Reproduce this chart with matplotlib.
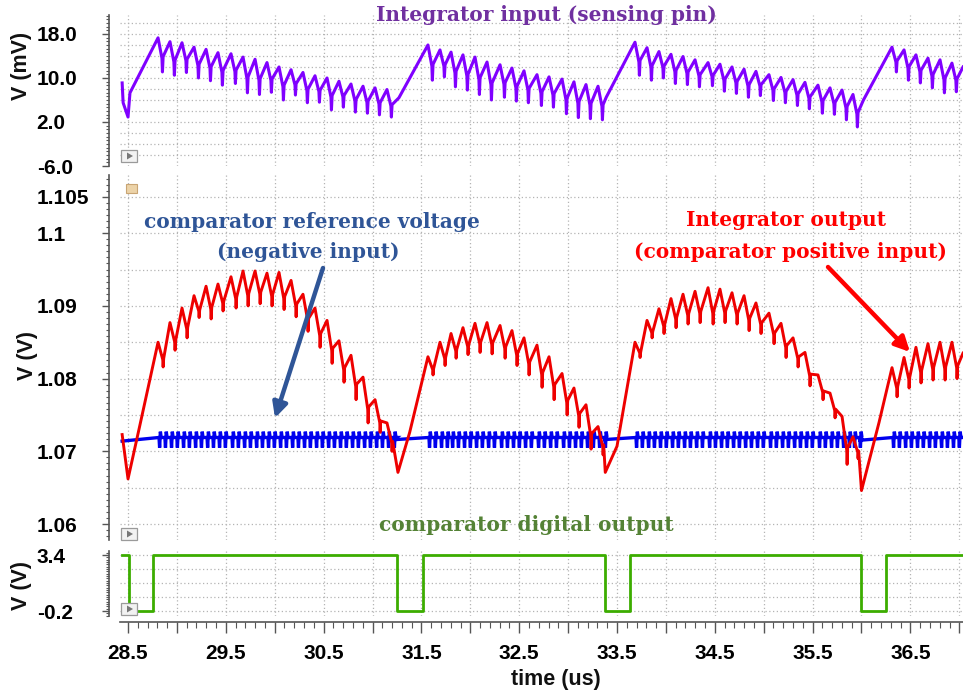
import numpy as np
import matplotlib
matplotlib.use("Agg")
import matplotlib.pyplot as plt
from matplotlib.ticker import FixedLocator, MultipleLocator, FuncFormatter
from matplotlib.patches import Rectangle, Polygon

# ---------------- waveform data (time in us) ----------------
# Ripple peak times of each conversion cycle; the first entry of each list is
# the top of the charging ramp that follows the comparator pulse.
cyc_t1 = [28.807, 28.929, 29.052, 29.175, 29.298, 29.420, 29.553, 29.676, 29.799, 29.921,
          30.044, 30.167, 30.289, 30.412, 30.535, 30.657, 30.780, 30.903, 31.026, 31.148]
cyc_t2 = [31.567, 31.690, 31.803, 31.925, 32.048, 32.171, 32.304, 32.426, 32.549, 32.682,
          32.805, 32.938, 33.060, 33.183, 33.306]
cyc_t3 = [33.684, 33.807, 33.929, 34.052, 34.175, 34.298, 34.431, 34.553, 34.676, 34.799,
          34.921, 35.054, 35.177, 35.300, 35.422, 35.555, 35.678, 35.801, 35.913]
cyc_t4 = [36.312, 36.435, 36.557, 36.680, 36.803, 36.925]

# Integrator output (V): ripple peaks and the dips that follow them
red_pk1 = [1.0850, 1.0877, 1.0897, 1.0914, 1.0927, 1.0930, 1.0940, 1.0948, 1.0948, 1.0945,
           1.0946, 1.0935, 1.0916, 1.0897, 1.0880, 1.0852, 1.0832, 1.0802, 1.0771, 1.0739]
red_tr1 = [1.0816, 1.0839, 1.0856, 1.0884, 1.0882, 1.0893, 1.0897, 1.0900, 1.0903, 1.0900,
           1.0895, 1.0885, 1.0865, 1.0843, 1.0821, 1.0795, 1.0771, 1.0739, 1.0726, 1.0700]
red_pk2 = [1.0830, 1.0850, 1.0862, 1.0870, 1.0876, 1.0877, 1.0873, 1.0866, 1.0856, 1.0846,
           1.0830, 1.0807, 1.0787, 1.0764, 1.0734]
red_tr2 = [1.0805, 1.0818, 1.0828, 1.0833, 1.0836, 1.0834, 1.0828, 1.0818, 1.0805, 1.0788,
           1.0771, 1.0750, 1.0733, 1.0703, 1.0695]
red_pk3 = [1.0850, 1.0880, 1.0896, 1.0910, 1.0916, 1.0920, 1.0925, 1.0923, 1.0918, 1.0914,
           1.0904, 1.0890, 1.0876, 1.0856, 1.0836, 1.0805, 1.0780, 1.0748, 1.0720]
red_tr3 = [1.0829, 1.0856, 1.0862, 1.0870, 1.0875, 1.0877, 1.0875, 1.0877, 1.0875, 1.0866,
           1.0862, 1.0848, 1.0829, 1.0816, 1.0790, 1.0771, 1.0746, 1.0682, 1.0690]
red_pk4 = [1.0815, 1.0829, 1.0843, 1.0848, 1.0850, 1.0850]
red_tr4 = [1.0775, 1.0787, 1.0794, 1.0798, 1.0798, 1.0800]
red_min_t = [28.50, 31.26, 33.38, 36.00]
red_min_v = [1.0662, 1.0671, 1.0671, 1.0646]
red_knee_t = [28.62, 31.38, 33.50, 36.18]
red_knee_v = [1.0735, 1.0726, 1.0707, 1.0740]
red_first = (28.44, 1.0723)
red_last = (37.038, 1.0835)

# Integrator input (mV)
pur_pk1 = [17.3, 16.6, 16.4, 15.6, 15.2, 14.6, 14.4, 13.8, 13.4, 12.8,
           12.0, 11.5, 11.0, 10.4, 10.0, 9.4, 8.9, 8.5, 8.2, 7.9]
pur_tr1 = [11.1, 10.5, 11.0, 10.0, 9.5, 8.7, 9.0, 7.3, 7.0, 7.4,
           6.0, 6.9, 5.5, 5.6, 4.2, 4.7, 3.8, 3.6, 3.3, 2.9]
pur_pk2 = [16.0, 15.1, 14.7, 14.2, 13.8, 12.9, 12.4, 11.8, 11.3, 10.6,
           10.2, 9.8, 9.3, 8.8, 8.5]
pur_tr2 = [9.6, 10.2, 8.4, 7.8, 7.0, 6.0, 6.5, 5.8, 5.5, 5.0,
           4.7, 3.5, 2.8, 2.6, 2.4]
pur_pk3 = [16.5, 15.5, 14.8, 14.3, 13.9, 13.3, 12.8, 12.5, 12.0, 11.6,
           11.2, 10.6, 10.1, 9.7, 9.2, 8.7, 8.2, 7.8, 7.0]
pur_tr3 = [10.5, 9.6, 10.0, 9.0, 8.8, 8.4, 8.6, 7.6, 7.2, 6.5,
           6.8, 5.9, 5.5, 5.0, 4.4, 3.6, 3.4, 2.4, 1.1]
pur_pk4 = [15.6, 15.1, 14.2, 13.6, 13.3, 12.7]
pur_tr4 = [11.1, 9.6, 9.1, 8.2, 7.3, 7.5]
pur_ramp_t = [28.52, 31.27, 33.39, 36.02]
pur_ramp_v = [7.3, 6.4, 6.5, 6.0]
pur_first_t = [28.44, 28.45, 28.50]
pur_first_v = [9.1, 5.5, 2.9]
pur_last = (37.038, 12.0)

# Comparator reference (V)
blue_flat_t0 = [28.44, 31.22, 33.36, 35.97]
blue_flat_v0 = [1.0714, 1.0716, 1.0716, 1.0715]
blue_flat_v1 = [1.0719, 1.0719, 1.0719, 1.0719]
blue_base, blue_hi, blue_lo = 1.0719, 1.0727, 1.0705

# Comparator digital output (V)
dig_fall = [28.505, 31.25, 33.38, 35.99]
dig_rise = [28.756, 31.52, 33.63, 36.25]
dig_high, dig_low = 3.4, -0.2

cycles_t = [cyc_t1, cyc_t2, cyc_t3, cyc_t4]
red_pk = [red_pk1, red_pk2, red_pk3, red_pk4]
red_tr = [red_tr1, red_tr2, red_tr3, red_tr4]
pur_pk = [pur_pk1, pur_pk2, pur_pk3, pur_pk4]
pur_tr = [pur_tr1, pur_tr2, pur_tr3, pur_tr4]

T0, T1 = 28.418, 37.038


def ripple(times, peaks, dips, shape):
    """Triangular ripple with a narrow spike at each valley."""
    ts, vs = [], []
    for tp, vp, vd in zip(times, peaks, dips):
        amp = vp - vd
        for dt, frac in shape:
            ts.append(tp + dt)
            vs.append(vd + frac * amp)
    return ts, vs


RED_SHAPE = [(0.0, 1.0), (0.048, 0.3), (0.052, 0.0), (0.058, 0.35)]
PUR_SHAPE = [(0.0, 1.0), (0.040, 0.4), (0.045, 0.0), (0.052, 0.45)]

# assemble traces
red_t, red_v = [red_first[0]], [red_first[1]]
pur_t, pur_v = list(pur_first_t), list(pur_first_v)
blue_t, blue_v = [], []
for k in range(4):
    red_t += [red_min_t[k], red_knee_t[k]]
    red_v += [red_min_v[k], red_knee_v[k]]
    a, b = ripple(cycles_t[k], red_pk[k], red_tr[k], RED_SHAPE)
    red_t += a; red_v += b
    pur_t.append(pur_ramp_t[k]); pur_v.append(pur_ramp_v[k])
    a, b = ripple(cycles_t[k], pur_pk[k], pur_tr[k], PUR_SHAPE)
    pur_t += a; pur_v += b
    blue_t += [blue_flat_t0[k], cycles_t[k][0]]
    blue_v += [blue_flat_v0[k], blue_flat_v1[k]]
    for tp in cycles_t[k]:
        for s in (tp + 0.01, tp + 0.07):
            blue_t += [s, s + 0.006, s + 0.014, s + 0.022, s + 0.03]
            blue_v += [blue_base, blue_lo, blue_hi, blue_base, blue_base]
red_t.append(red_last[0]); red_v.append(red_last[1])
pur_t.append(pur_last[0]); pur_v.append(pur_last[1])
blue_t.append(T1); blue_v.append(blue_base)

dig_t, dig_v = [28.44], [dig_high]
for f, r in zip(dig_fall, dig_rise):
    dig_t += [f, f, r, r]
    dig_v += [dig_high, dig_low, dig_low, dig_high]
dig_t.append(T1); dig_v.append(dig_high)

# ---------------- figure ----------------
W, H = 963, 694
fig = plt.figure(figsize=(W / 100, H / 100), dpi=100)
fig.patch.set_facecolor("white")


def px_axes(top, bottom):
    return fig.add_axes([120 / W, 1 - bottom / H, (W - 120) / W, (bottom - top) / H])


ax1 = px_axes(15, 166)
ax2 = px_axes(175, 540)
ax3 = px_axes(551, 616)

SANS = "Liberation Sans"
SERIF = "DejaVu Serif"
grid_kw = dict(color="#b4b4b4", lw=0.9, ls=(0, (1, 2)), zorder=0)

for ax in (ax1, ax2, ax3):
    ax.set_xlim(T0, T1)
    for s in ("top", "right"):
        ax.spines[s].set_visible(False)
    ax.spines["left"].set_position(("outward", 8))
    ax.spines["left"].set_color("#555555")
    ax.spines["left"].set_linewidth(1.2)
    for xv in np.arange(28.5, 37.01, 0.5):
        ax.axvline(xv, **grid_kw)
    ax.tick_params(axis="y", which="major", direction="out", length=5, width=1,
                   color="#555555", pad=47, labelsize=15)
    ax.tick_params(axis="y", which="minor", direction="out", length=2.5, width=0.8,
                   color="#555555")

for ax in (ax1, ax2):
    ax.spines["bottom"].set_visible(False)
    ax.tick_params(axis="x", which="both", bottom=False, labelbottom=False)

# top strip
ax1.set_ylim(-6.0, 21.45)
ax1.yaxis.set_major_locator(FixedLocator([-6, 2, 10, 18]))
ax1.yaxis.set_major_formatter(FuncFormatter(lambda v, p: f"{v:.1f}"))
ax1.yaxis.set_minor_locator(MultipleLocator(2 / 3))
for yv in np.arange(-4, 21, 2):
    ax1.axhline(yv, **grid_kw)
ax1.plot(pur_t, pur_v, color="#8000ff", lw=2.2, solid_joinstyle="round", zorder=3)

# middle strip
ax2.set_ylim(1.0578, 1.1080)
ax2.yaxis.set_major_locator(FixedLocator([1.06, 1.07, 1.08, 1.09, 1.1, 1.105]))
ax2.yaxis.set_major_formatter(FuncFormatter(lambda v, p: f"{v:.3f}".rstrip("0")))
ax2.yaxis.set_minor_locator(MultipleLocator(0.01 / 12))
for yv in np.arange(1.06, 1.1051, 0.005):
    ax2.axhline(yv, **grid_kw)
ax2.plot(blue_t, blue_v, color="#0000ee", lw=2.4, solid_joinstyle="miter", zorder=3)
ax2.plot(red_t, red_v, color="#ee0000", lw=2.1, solid_joinstyle="round", zorder=4)

# bottom strip
ax3.set_ylim(-0.52, 3.66)
ax3.yaxis.set_major_locator(FixedLocator([-0.2, 3.4]))
ax3.yaxis.set_major_formatter(FuncFormatter(lambda v, p: f"{v:.1f}"))
ax3.yaxis.set_minor_locator(FixedLocator(np.linspace(-0.5, 3.55, 28)))
for yv in np.linspace(-0.2, 3.4, 5):
    ax3.axhline(yv, **grid_kw)
ax3.plot(dig_t, dig_v, color="#3cad00", lw=2.0, zorder=3)
ax3.spines["bottom"].set_position(("outward", 4))
ax3.spines["bottom"].set_color("#555555")
ax3.spines["bottom"].set_linewidth(1.2)
ax3.xaxis.set_major_locator(MultipleLocator(0.5))
ax3.xaxis.set_minor_locator(MultipleLocator(0.1))
ax3.xaxis.set_major_formatter(FuncFormatter(
    lambda v, p: f"{v:.1f}" if abs((v * 2) % 2 - 1) < 1e-6 else ""))
ax3.tick_params(axis="x", which="major", direction="out", length=8, width=1,
                color="#555555", pad=8, labelsize=15)
ax3.tick_params(axis="x", which="minor", direction="out", length=4, width=0.8,
                color="#555555")

for ax in (ax1, ax2, ax3):
    for lab in ax.get_yticklabels():
        lab.set_horizontalalignment("left")
        lab.set_fontfamily(SANS)
        lab.set_fontweight("bold")
for lab in ax3.get_xticklabels():
    lab.set_fontfamily(SANS)
    lab.set_fontweight("bold")

# axis titles
lab_kw = dict(family=SANS, weight="bold", fontsize=15.5, ha="center", va="center",
              color="#111111")
fig.text(22 / W, 1 - 66 / H, "V (mV)", rotation=90, **lab_kw)
fig.text(28 / W, 1 - 356 / H, "V (V)", rotation=90, **lab_kw)
fig.text(22 / W, 1 - 585 / H, "V (V)", rotation=90, **lab_kw)
fig.text(556 / W, 1 - 680 / H, "time (us)", **lab_kw)

# signal names
sig_kw = dict(family=SERIF, weight="bold", fontsize=14.5, ha="center", va="center")
fig.text(546 / W, 1 - 15 / H, "Integrator input (sensing pin)", color="#7030a0", **sig_kw)
fig.text(312 / W, 1 - 222 / H, "comparator reference voltage", color="#2f5597", **sig_kw)
fig.text(308 / W, 1 - 252 / H, "(negative input)", color="#2f5597", **sig_kw)
fig.text(786 / W, 1 - 220 / H, "Integrator output", color="#ff0000", **sig_kw)
fig.text(790 / W, 1 - 252 / H, "(comparator positive input)", color="#ff0000", **sig_kw)
fig.text(526 / W, 1 - 525 / H, "comparator digital output", color="#548235", **sig_kw)

# pointer arrows
ax2.annotate("", xy=(275, H - 418), xycoords="figure pixels",
             xytext=(323, H - 268), textcoords="figure pixels",
             arrowprops=dict(arrowstyle="-|>", color="#2f5597", lw=3.2,
                             mutation_scale=22, shrinkA=0, shrinkB=0), zorder=6)
ax2.annotate("", xy=(910, H - 352), xycoords="figure pixels",
             xytext=(828, H - 267), textcoords="figure pixels",
             arrowprops=dict(arrowstyle="-|>", color="#ff0000", lw=3.2,
                             mutation_scale=22, shrinkA=0, shrinkB=0), zorder=6)

# small strip widgets
for ytop in (150, 528, 603):
    fig.add_artist(Rectangle((121 / 100, (H - ytop - 12) / 100), 0.16, 0.12,
                             transform=fig.dpi_scale_trans, facecolor="#f2f2f2",
                             edgecolor="#9a9a9a", lw=0.9, zorder=7))
    cy = (H - ytop - 6) / 100
    fig.add_artist(Polygon([[1.27, cy - 0.035], [1.27, cy + 0.035], [1.33, cy]],
                           closed=True, transform=fig.dpi_scale_trans,
                           facecolor="#777777", edgecolor="none", zorder=8))
fig.add_artist(Rectangle((1.26, (H - 193) / 100), 0.11, 0.09,
                         transform=fig.dpi_scale_trans, facecolor="#ecd3a8",
                         edgecolor="#c9a574", lw=0.8, zorder=7))

fig.savefig("out.png", dpi=100, facecolor="white")
